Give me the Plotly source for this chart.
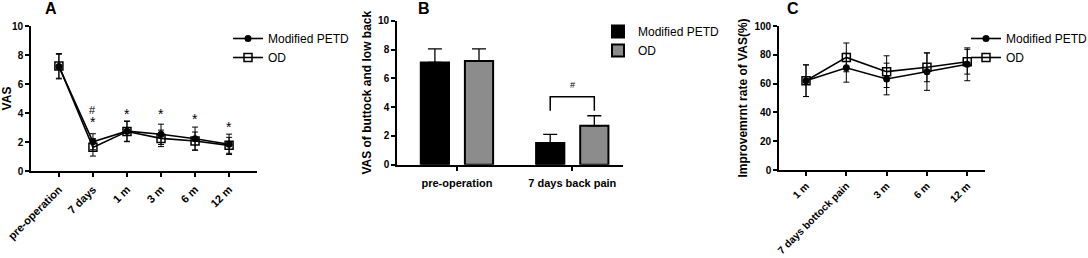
import plotly.graph_objects as go

# ---------------- data ----------------
# Panel A
a_cats = ["pre-operation", "7 days", "1 m", "3 m", "6 m", "12 m"]
a_petd = [7.2, 2.02, 2.75, 2.53, 2.23, 1.84]
a_petd_err = [0.85, 0.55, 0.7, 0.7, 0.8, 0.7]
a_od = [7.25, 1.63, 2.72, 2.25, 2.07, 1.77]
a_od_err = [0.85, 0.6, 0.7, 0.57, 0.62, 0.55]
a_sig_hash = ["", "#", "", "", "", ""]
a_sig_hash_y = [None, 4.2, None, None, None, None]
a_sig_star = ["", "*", "*", "*", "*", "*"]
a_sig_star_y = [None, 3.35, 3.95, 3.95, 3.6, 3.05]

# Panel B
b_cats = ["pre-operation", "7 days back pain"]
b_petd = [7.1, 1.5]
b_petd_err = [0.95, 0.6]
b_od = [7.2, 2.7]
b_od_err = [0.85, 0.7]
b_bracket_top = 4.72
b_bracket_bottom = 3.75

# Panel C
c_cats = ["1 m", "7 days bottock pain", "3 m", "6 m", "12 m"]
c_petd = [62, 71, 63.2, 68.3, 73.4]
c_petd_err = [11, 10, 11, 13, 11.4]
c_od = [62, 78.2, 68.3, 71.3, 75.2]
c_od_err = [11, 10, 11, 10, 8.6]

# ---------------- style ----------------
FONT = "Liberation Sans, Arial, sans-serif"
W, H = 1088, 258
LW = 1.6

def px_x(p):
    return p / W

def px_y(p):
    return 1 - p / H

fig = go.Figure()

# ---- Panel A ----
xa = list(range(len(a_cats)))
fig.add_trace(go.Scatter(
    x=xa, y=a_petd, mode="lines+markers", name="Modified PETD",
    line=dict(color="black", width=LW),
    marker=dict(symbol="circle", size=7, color="black"),
    error_y=dict(type="data", array=a_petd_err, color="black", thickness=1, width=3),
    xaxis="x", yaxis="y", legend="legend"))
fig.add_trace(go.Scatter(
    x=xa, y=a_od, mode="lines+markers", name="OD",
    line=dict(color="black", width=LW),
    marker=dict(symbol="square-open", size=8, color="black", line=dict(width=1.5)),
    error_y=dict(type="data", array=a_od_err, color="black", thickness=1, width=3),
    xaxis="x", yaxis="y", legend="legend"))

# ---- Panel B ----
bargap = 0.235
slot = (1 - bargap) / 2
xb = list(range(len(b_cats)))
fig.add_trace(go.Bar(
    x=xb, y=b_petd, name="Modified PETD",
    marker=dict(color="black", line=dict(color="black", width=2)),
    error_y=dict(type="data", array=b_petd_err, arrayminus=[0] * len(b_petd),
                 symmetric=False, color="black", thickness=1.3, width=7),
    xaxis="x2", yaxis="y2", legend="legend2"))
fig.add_trace(go.Bar(
    x=xb, y=b_od, name="OD",
    marker=dict(color="#8c8c8c", line=dict(color="black", width=2)),
    error_y=dict(type="data", array=b_od_err, arrayminus=[0] * len(b_od),
                 symmetric=False, color="black", thickness=1.3, width=7),
    xaxis="x2", yaxis="y2", legend="legend2"))

# ---- Panel C ----
xc = list(range(len(c_cats)))
fig.add_trace(go.Scatter(
    x=xc, y=c_petd, mode="lines+markers", name="Modified PETD",
    line=dict(color="black", width=LW),
    marker=dict(symbol="circle", size=7, color="black"),
    error_y=dict(type="data", array=c_petd_err, color="black", thickness=1, width=3),
    xaxis="x3", yaxis="y3", legend="legend3"))
fig.add_trace(go.Scatter(
    x=xc, y=c_od, mode="lines+markers", name="OD",
    line=dict(color="black", width=LW),
    marker=dict(symbol="square-open", size=8, color="black", line=dict(width=1.5)),
    error_y=dict(type="data", array=c_od_err, color="black", thickness=1, width=3),
    xaxis="x3", yaxis="y3", legend="legend3"))

# ---------------- axes ----------------
tickfont = dict(family=FONT, size=11, color="black", weight="bold")
ctickfont = dict(family=FONT, size=10.3, color="black", weight="bold")
ytickfont = dict(family=FONT, size=10, color="black", weight="bold")
titlefont = dict(family=FONT, size=12, color="black", weight="bold")
common = dict(showgrid=False, zeroline=False, showline=True, linecolor="black",
              linewidth=LW, ticks="outside", ticklen=4, tickwidth=LW,
              tickcolor="black", automargin=False)

fig.update_layout(
    width=W, height=H, margin=dict(l=0, r=0, t=0, b=0, autoexpand=False),
    paper_bgcolor="white", plot_bgcolor="white",
    barmode="group", bargap=bargap, bargroupgap=0.36,
    font=dict(family=FONT, color="black"),
    xaxis=dict(domain=[px_x(31), px_x(257)], range=[-0.82, 5.82], tickfont=tickfont,
               tickvals=xa, ticktext=a_cats, tickangle=-45, anchor="y",
               ticklabelstandoff=2, **common),
    yaxis=dict(domain=[px_y(171), px_y(26)], range=[0, 10], dtick=2, tickfont=ytickfont,
               title=dict(text="VAS", font=titlefont, standoff=6), anchor="x", **common),
    xaxis2=dict(domain=[px_x(397), px_x(623)], range=[-0.52, 1.44], tickfont=tickfont,
                tickvals=xb, ticktext=b_cats, tickangle=0, anchor="y2",
                ticklabelstandoff=3, **common),
    yaxis2=dict(domain=[px_y(164.7), px_y(20.7)], range=[0, 10], dtick=2, tickfont=ytickfont,
                title=dict(text="VAS of buttock and low back", font=titlefont, standoff=4),
                anchor="x2", **common),
    xaxis3=dict(domain=[px_x(779), px_x(985)], range=[-0.67, 4.44], tickfont=ctickfont,
                tickvals=xc, ticktext=c_cats, tickangle=-45, anchor="y3",
                ticklabelstandoff=0, **common),
    yaxis3=dict(domain=[px_y(170), px_y(26)], range=[0, 100], dtick=20, tickfont=ytickfont,
                title=dict(text="Improvemrnt rate of VAS(%)", font=titlefont, standoff=4),
                anchor="x3", **common),
)

legfont = dict(family=FONT, size=12, color="black")
for key, lx, ly in [("legend", 228, 24), ("legend2", 598, 17), ("legend3", 966, 24)]:
    fig.update_layout({key: dict(x=px_x(lx), y=px_y(ly), xanchor="left", yanchor="top",
                                 font=legfont, bgcolor="rgba(0,0,0,0)", itemwidth=30,
                                 tracegroupgap=0)})

annotations = []
# panel letters
for letter, lx, ly in [("A", 51, 9), ("B", 424, 8), ("C", 793, 9)]:
    annotations.append(dict(text=letter, x=px_x(lx), y=px_y(ly), xref="paper", yref="paper",
                            showarrow=False, font=dict(family=FONT, size=16, weight="bold"),
                            xanchor="center", yanchor="middle"))
# significance marks panel A
for i in range(len(a_cats)):
    if a_sig_hash[i]:
        annotations.append(dict(text=a_sig_hash[i], x=xa[i], y=a_sig_hash_y[i], xref="x", yref="y",
                                showarrow=False, font=dict(family=FONT, size=11, color="black")))
    if a_sig_star[i]:
        annotations.append(dict(text=a_sig_star[i], x=xa[i], y=a_sig_star_y[i], xref="x", yref="y",
                                showarrow=False, font=dict(family=FONT, size=14, color="black")))
# bracket panel B
xl = xb[1] - slot / 2
xr = xb[1] + slot / 2
shapes = [dict(type="path", xref="x2", yref="y2",
               path=f"M {xl} {b_bracket_bottom} L {xl} {b_bracket_top} L {xr} {b_bracket_top} L {xr} {b_bracket_bottom}",
               line=dict(color="black", width=1.5))]
annotations.append(dict(text="#", x=xb[1], y=b_bracket_top + 0.3, xref="x2", yref="y2",
                        showarrow=False, yanchor="bottom", font=dict(family=FONT, size=9, color="black")))
fig.update_layout(annotations=annotations, shapes=shapes)

fig.write_html("out.html", config={"displayModeBar": False},
               post_script="document.body.style.margin='0';document.body.style.overflow='hidden';")
